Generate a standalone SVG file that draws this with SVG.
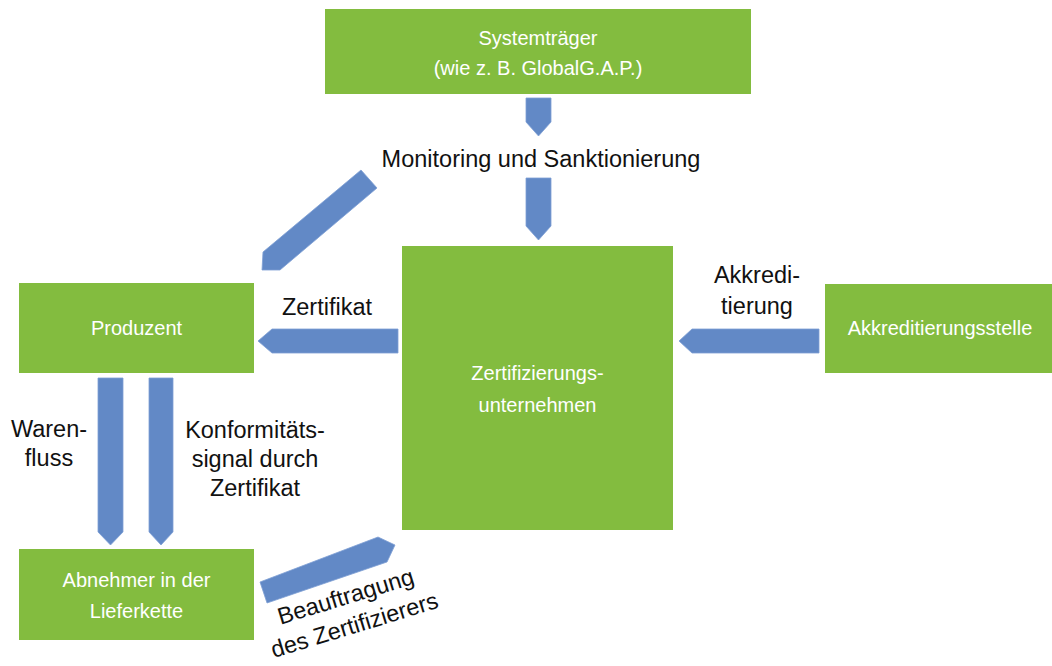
<svg xmlns="http://www.w3.org/2000/svg" width="1052" height="666" viewBox="0 0 1052 666">
<style>
.box{fill:#83bc3f}
.arr{fill:#6289c6;stroke:#7fa0d4;stroke-width:0.8}
.wt{font-family:"Liberation Sans",Arial,sans-serif;font-size:20px;fill:#ffffff;text-anchor:middle}
.bt{font-family:"Liberation Sans",Arial,sans-serif;font-size:23.5px;fill:#111111;text-anchor:middle}
</style>
<rect width="1052" height="666" fill="#ffffff"/>
<g id="connectors">
<polygon class="arr" points="526,98 551,98 551,122 538.5,136 526,122"/>
<polygon class="arr" points="526,178 551,178 551,226 538.5,240 526,226"/>
<polygon class="arr" points="361,170 377,188 280,270 262,270 263,252"/>
<polygon class="arr" points="398,329 398,353 272,353 258,341 272,329"/>
<polygon class="arr" points="819,329 819,353 692,353 679,341 692,329"/>
<polygon class="arr" points="98,378 123,378 123,532 110.5,545 98,532"/>
<polygon class="arr" points="149,378 173,378 173,532 161,545 149,532"/>
<polygon class="arr" points="260,582 378,537 395,545 387,562 267,603"/>
<text class="bt" x="541" y="167">Monitoring und Sanktionierung</text>
<text class="bt" x="327" y="315">Zertifikat</text>
<text class="bt" x="757" y="283">Akkredi-</text>
<text class="bt" x="757" y="314">tierung</text>
<text class="bt" x="49" y="437">Waren-</text>
<text class="bt" x="49" y="466">fluss</text>
<text class="bt" x="255" y="438">Konformitäts-</text>
<text class="bt" x="255" y="467">signal durch</text>
<text class="bt" x="255" y="496">Zertifikat</text>
<g transform="translate(348,604) rotate(-17)">
<text class="bt" x="0" y="0">Beauftragung</text>
<text class="bt" x="0" y="30">des Zertifizierers</text>
</g>
</g>
<g id="systemtraeger">
<rect class="box" x="325" y="9" width="426" height="85"/>
<text class="wt" x="538" y="45">Systemträger</text>
<text class="wt" x="538" y="75">(wie z. B. GlobalG.A.P.)</text>
</g>
<g id="produzent">
<rect class="box" x="19" y="283" width="235" height="90"/>
<text class="wt" x="136.5" y="335">Produzent</text>
</g>
<g id="zertifizierungsunternehmen">
<rect class="box" x="402" y="246" width="271" height="284"/>
<text class="wt" x="537.5" y="380">Zertifizierungs-</text>
<text class="wt" x="537.5" y="412">unternehmen</text>
</g>
<g id="akkreditierungsstelle">
<rect class="box" x="825" y="284" width="227" height="89"/>
<text class="wt" x="940" y="335">Akkreditierungsstelle</text>
</g>
<g id="abnehmer">
<rect class="box" x="19" y="549" width="235" height="91"/>
<text class="wt" x="136.5" y="587">Abnehmer in der</text>
<text class="wt" x="136.5" y="618">Lieferkette</text>
</g>
</svg>
